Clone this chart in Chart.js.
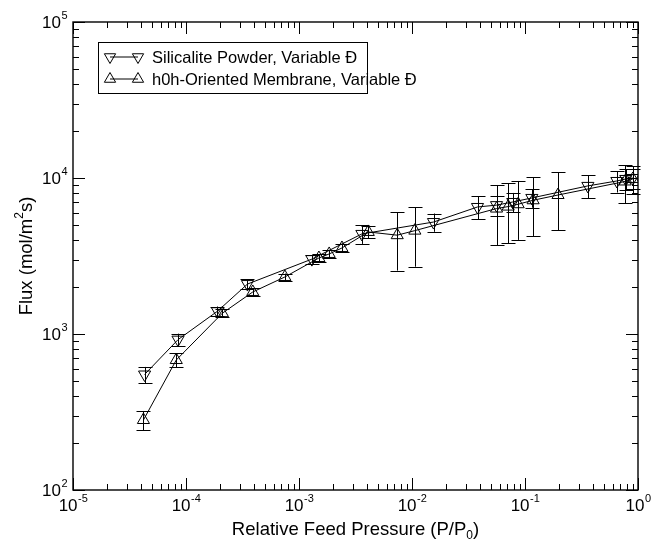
<!DOCTYPE html>
<html>
<head>
<meta charset="utf-8">
<script src="https://cdn.jsdelivr.net/npm/chart.js@4.4.1/dist/chart.umd.min.js"></script>
<style>
  body { margin: 0; background: #fff; }
  #wrap { width: 651px; height: 542px; }
</style>
</head>
<body>
<div id="wrap"><canvas id="myChart" width="651" height="542"></canvas></div>
<script>
// Silicalite Powder (triangulo hacia abajo)
const powderP    = [4.3e-5, 8.5e-5, 1.9e-4, 3.5e-4, 1.3e-3, 3.6e-3, 1.55e-2, 3.8e-2, 5.6e-2, 7.8e-2, 0.115, 0.36, 0.65, 0.78, 0.90];
const powderFlux = [550, 920, 1400, 2090, 3020, 4380, 5220, 6520, 6700, 7020, 7450, 8900, 9570, 9860, 10000];
const powderErr  = [65, 85, 100, 150, 200, 600, 700, 1100, 1000, 1000, 1000, 1500, 1500, 1500, 1500];

// h0h-Oriented Membrane (triangulo hacia arriba)
const membP    = [4.2e-5, 8.2e-5, 2.1e-4, 3.9e-4, 7.5e-4, 1.5e-3, 1.85e-3, 2.4e-3, 4.1e-3, 7.4e-3, 1.06e-2, 5.6e-2, 7.1e-2, 8.7e-2, 0.118, 0.196, 0.77, 0.90];
const membFlux = [281, 681, 1360, 1860, 2320, 3070, 3260, 3560, 4510, 4300, 4600, 6370, 6560, 6790, 7200, 7780, 9500, 9860];
const membErr  = [40, 70, 80, 100, 120, 180, 200, 200, 400, 1750, 1900, 2650, 2730, 2780, 2950, 3140, 2600, 2000];

// Etiquetas de los ejes (exponentes de 10)
const xDecades = [-5, -4, -3, -2, -1, 0];
const yDecades = [2, 3, 4, 5];

const legendLabels = ["Silicalite Powder, Variable \u0110", "h0h-Oriented Membrane, Variable \u0110"];

const FONT = "'Liberation Sans', Arial, Helvetica, sans-serif";

function toPoints(xs, ys) {
    return xs.map((x, i) => ({ x: x, y: ys[i] }));
}

// Barras de error
const errorBars = {
    id: "errorBars",
    afterDatasetsDraw(chart) {
        const ctx = chart.ctx;
        const yScale = chart.scales.y;
        const errs = [powderErr, membErr];
        const vals = [powderFlux, membFlux];
        ctx.save();
        ctx.strokeStyle = "#000";
        ctx.lineWidth = 1;
        chart.data.datasets.forEach((ds, i) => {
            const meta = chart.getDatasetMeta(i);
            meta.data.forEach((pt, j) => {
                const v = vals[i][j], e = errs[i][j];
                const top = yScale.getPixelForValue(v + e);
                const bot = yScale.getPixelForValue(Math.max(v - e, 1));
                const x = Math.round(pt.x) + 0.5;
                ctx.beginPath();
                ctx.moveTo(x, top); ctx.lineTo(x, bot);
                ctx.moveTo(x - 7, Math.round(top) + 0.5); ctx.lineTo(x + 7, Math.round(top) + 0.5);
                ctx.moveTo(x - 7, Math.round(bot) + 0.5); ctx.lineTo(x + 7, Math.round(bot) + 0.5);
                ctx.stroke();
            });
        });
        ctx.restore();
    }
};

function drawPow(ctx, exp, x, y, align) {
    const base = "10";
    const sup = String(exp);
    ctx.font = "17px " + FONT;
    const wb = ctx.measureText(base).width;
    ctx.font = "11px " + FONT;
    const ws = ctx.measureText(sup).width;
    let x0;
    if (align === "right") x0 = x - wb - ws;
    else x0 = x - (wb + ws) / 2;
    ctx.textAlign = "left";
    ctx.textBaseline = "alphabetic";
    ctx.font = "17px " + FONT;
    ctx.fillText(base, x0, y);
    ctx.font = "11px " + FONT;
    ctx.fillText(sup, x0 + wb + 0.5, y - 9);
}

// Marco, marcas, etiquetas, titulos y leyenda
const frame = {
    id: "frame",
    afterDraw(chart) {
        const ctx = chart.ctx;
        const a = chart.chartArea;
        const xs = chart.scales.x, ys = chart.scales.y;
        ctx.save();
        ctx.strokeStyle = "#000";
        ctx.fillStyle = "#000";
        ctx.lineWidth = 1.4;
        ctx.strokeRect(a.left, a.top, a.right - a.left, a.bottom - a.top);

        ctx.lineWidth = 1;
        ctx.beginPath();
        // eje x
        xDecades.forEach(n => {
            for (let m = 1; m <= 9; m++) {
                const v = m * Math.pow(10, n);
                if (v > 1.0000001) continue;
                const px = Math.round(xs.getPixelForValue(v)) + 0.5;
                const len = m === 1 ? 12 : 6;
                ctx.moveTo(px, a.bottom); ctx.lineTo(px, a.bottom - len);
                ctx.moveTo(px, a.top); ctx.lineTo(px, a.top + len);
            }
        });
        // eje y
        yDecades.forEach(n => {
            for (let m = 1; m <= 9; m++) {
                const v = m * Math.pow(10, n);
                if (v > 100000.1) continue;
                const py = Math.round(ys.getPixelForValue(v)) + 0.5;
                const len = m === 1 ? 12 : 6;
                ctx.moveTo(a.left, py); ctx.lineTo(a.left + len, py);
                ctx.moveTo(a.right, py); ctx.lineTo(a.right - len, py);
            }
        });
        ctx.stroke();

        xDecades.forEach(n => {
            drawPow(ctx, n, xs.getPixelForValue(Math.pow(10, n)), a.bottom + 21, "center");
        });
        yDecades.forEach(n => {
            drawPow(ctx, n, a.left - 6, ys.getPixelForValue(Math.pow(10, n)) + 6, "right");
        });

        // titulo eje x
        const BIG = "18.5px " + FONT, SMALL = "12px " + FONT;
        ctx.textBaseline = "alphabetic";
        ctx.textAlign = "left";
        let t1 = "Relative Feed Pressure (P/P", t2 = "0", t3 = ")";
        ctx.font = BIG;
        const w1 = ctx.measureText(t1).width, w3 = ctx.measureText(t3).width;
        ctx.font = SMALL;
        const w2 = ctx.measureText(t2).width;
        let cx = (a.left + a.right) / 2 - (w1 + w2 + w3) / 2;
        const by = 535;
        ctx.font = BIG; ctx.fillText(t1, cx, by);
        ctx.font = SMALL; ctx.fillText(t2, cx + w1, by + 4);
        ctx.font = BIG; ctx.fillText(t3, cx + w1 + w2, by);

        // titulo eje y
        ctx.save();
        ctx.translate(32, (a.top + a.bottom) / 2);
        ctx.rotate(-Math.PI / 2);
        let s1 = "Flux (mol/m", s2 = "2", s3 = "s)";
        ctx.font = BIG;
        const v1 = ctx.measureText(s1).width, v3 = ctx.measureText(s3).width;
        ctx.font = SMALL;
        const v2 = ctx.measureText(s2).width;
        let sx = -(v1 + v2 + v3) / 2;
        ctx.font = BIG; ctx.fillText(s1, sx, 0);
        ctx.font = SMALL; ctx.fillText(s2, sx + v1, -9);
        ctx.font = BIG; ctx.fillText(s3, sx + v1 + v2, 0);
        ctx.restore();

        // leyenda
        ctx.lineWidth = 1;
        ctx.strokeRect(98.5, 42.5, 269, 51);
        const rows = [57, 79];
        const rots = [180, 0];
        rows.forEach((ry, i) => {
            ctx.beginPath();
            ctx.moveTo(110, ry); ctx.lineTo(138, ry);
            ctx.stroke();
            [110, 138].forEach(mx => {
                ctx.fillStyle = "rgba(0,0,0,0)";
                Chart.helpers.drawPoint(ctx, { pointStyle: "triangle", rotation: rots[i], radius: 6.5, borderWidth: 1 }, mx, ry);
            });
            ctx.fillStyle = "#000";
            ctx.font = "16.5px " + FONT;
            ctx.textBaseline = "middle";
            ctx.fillText(legendLabels[i], 152, ry + 1);
        });
        ctx.restore();
    }
};

const ctx = document.getElementById("myChart").getContext("2d");
const myChart = new Chart(ctx, {
    type: "line",
    data: {
        datasets: [{
            label: legendLabels[0],
            data: toPoints(powderP, powderFlux),
            borderColor: "#000",
            borderWidth: 1,
            backgroundColor: "rgba(0,0,0,0)",
            pointStyle: "triangle",
            rotation: 180,
            pointRadius: 7,
            pointBorderWidth: 1,
            pointBackgroundColor: "rgba(0,0,0,0)",
            pointBorderColor: "#000",
            tension: 0
        }, {
            label: legendLabels[1],
            data: toPoints(membP, membFlux),
            borderColor: "#000",
            borderWidth: 1,
            backgroundColor: "rgba(0,0,0,0)",
            pointStyle: "triangle",
            rotation: 0,
            pointRadius: 7,
            pointBorderWidth: 1,
            pointBackgroundColor: "rgba(0,0,0,0)",
            pointBorderColor: "#000",
            tension: 0
        }]
    },
    options: {
        responsive: false,
        animation: false,
        devicePixelRatio: 1,
        layout: { padding: { left: 73, right: 13, top: 22, bottom: 52 } },
        scales: {
            x: { type: "logarithmic", min: 1e-5, max: 1, display: false },
            y: { type: "logarithmic", min: 100, max: 100000, display: false }
        },
        plugins: {
            legend: { display: false },
            tooltip: { enabled: false }
        }
    },
    plugins: [errorBars, frame]
});
</script>
</body>
</html>
